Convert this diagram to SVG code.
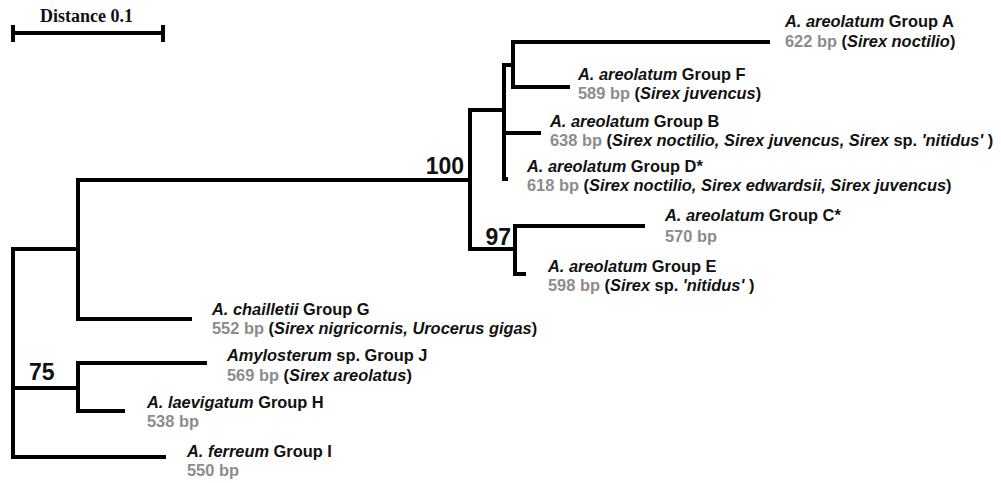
<svg xmlns="http://www.w3.org/2000/svg" width="1001" height="483" viewBox="0 0 1001 483">
<style>
text{font-family:"Liberation Sans",Arial,sans-serif;font-weight:bold;font-size:16.4px;fill:#111}
.i{font-style:italic}
.g{fill:#8c8c8c}
.sup{font-size:23px}
.br{fill:none;stroke:#000;stroke-width:4;stroke-linejoin:miter;stroke-linecap:butt}
.sc{font-family:"Liberation Serif","Times New Roman",serif;font-size:18px}
</style>
<rect width="1001" height="483" fill="#fff"/>
<g id="scale">
<text class="sc" x="40" y="22">Distance 0.1</text>
<path class="br" d="M13,33 H163 M13,25 V42 M163,25 V42" stroke-width="3.5"/>
</g>
<g id="connectors">
<path class="br" d="M80,249 H13 V457 H166"/>
<path class="br" d="M13,388 H80"/>
<path class="br" d="M192,319 H78 V180 H472"/>
<path class="br" d="M207,363 H78 V411 H125"/>
<path class="br" d="M506,110 H470 V249 H517"/>
<path class="br" d="M515,65 H504 V179 H508"/>
<path class="br" d="M504,133 H541"/>
<path class="br" d="M770,42 H513 V87 H570"/>
<path class="br" d="M645,226 H515 V274 H526"/>
</g>
<g id="support-100"><text class="sup" x="464" y="174" text-anchor="end">100</text></g>
<g id="support-97"><text class="sup" x="511" y="245" text-anchor="end">97</text></g>
<g id="support-75"><text class="sup" x="29" y="380">75</text></g>
<g id="leaf-A">
<text x="785" y="27"><tspan class="i">A. areolatum</tspan> Group A</text>
<text x="785" y="47"><tspan class="g">622 bp</tspan> (<tspan class="i">Sirex noctilio</tspan>)</text>
</g>
<g id="leaf-F">
<text x="578" y="80"><tspan class="i">A. areolatum</tspan> Group F</text>
<text x="578" y="99"><tspan class="g">589 bp</tspan> (<tspan class="i">Sirex juvencus</tspan>)</text>
</g>
<g id="leaf-B">
<text x="550" y="127"><tspan class="i">A. areolatum</tspan> Group B</text>
<text x="550" y="146"><tspan class="g">638 bp</tspan> (<tspan class="i">Sirex noctilio, Sirex juvencus, Sirex</tspan> sp. <tspan class="i">'nitidus'</tspan> )</text>
</g>
<g id="leaf-D">
<text x="527" y="172"><tspan class="i">A. areolatum</tspan> Group D*</text>
<text x="527" y="191"><tspan class="g">618 bp</tspan> (<tspan class="i">Sirex noctilio, Sirex edwardsii, Sirex juvencus</tspan>)</text>
</g>
<g id="leaf-C">
<text x="665" y="221"><tspan class="i">A. areolatum</tspan> Group C*</text>
<text x="665" y="242"><tspan class="g">570 bp</tspan></text>
</g>
<g id="leaf-E">
<text x="548" y="272"><tspan class="i">A. areolatum</tspan> Group E</text>
<text x="548" y="291"><tspan class="g">598 bp</tspan> (<tspan class="i">Sirex</tspan> sp. <tspan class="i">'nitidus'</tspan> )</text>
</g>
<g id="leaf-G">
<text x="212" y="315"><tspan class="i">A. chailletii</tspan> Group G</text>
<text x="212" y="334"><tspan class="g">552 bp</tspan> (<tspan class="i">Sirex nigricornis, Urocerus gigas</tspan>)</text>
</g>
<g id="leaf-J">
<text x="227" y="361"><tspan class="i">Amylosterum</tspan> sp. Group J</text>
<text x="227" y="381"><tspan class="g">569 bp</tspan> (<tspan class="i">Sirex areolatus</tspan>)</text>
</g>
<g id="leaf-H">
<text x="147" y="408"><tspan class="i">A. laevigatum</tspan> Group H</text>
<text x="147" y="427"><tspan class="g">538 bp</tspan></text>
</g>
<g id="leaf-I">
<text x="187" y="457"><tspan class="i">A. ferreum</tspan> Group I</text>
<text x="187" y="476"><tspan class="g">550 bp</tspan></text>
</g>
</svg>
